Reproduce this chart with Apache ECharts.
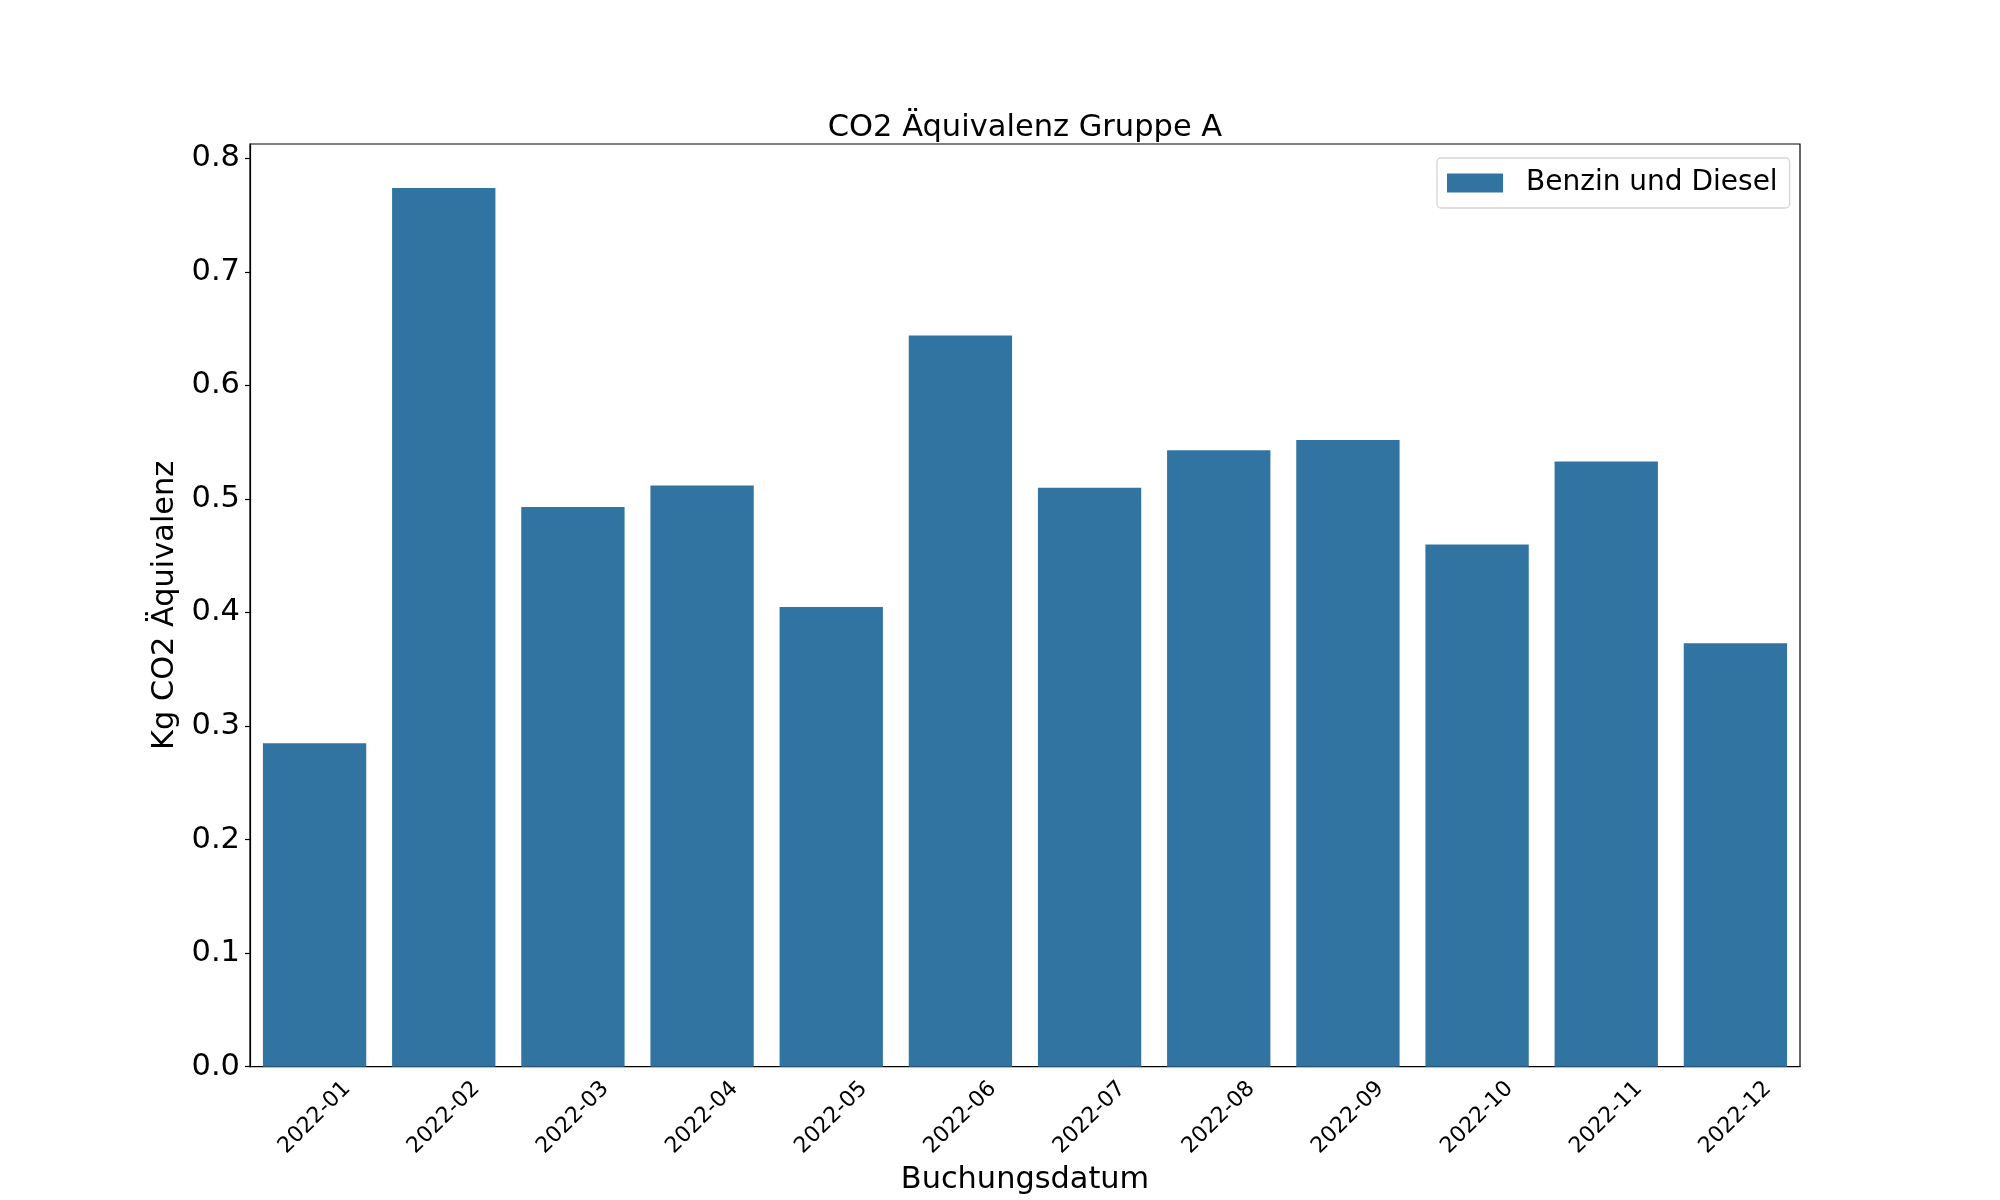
<!DOCTYPE html>
<html style="height: 100%">
    <head>
        <meta charset="utf-8">
    </head>
    <body style="height: 100%; margin: 0; background: #ffffff">
        <div id="container" style="width: 2000px; height: 1200px"></div>

        <script type="text/javascript" src="https://cdn.jsdelivr.net/npm/echarts@6/dist/echarts.min.js"></script>

        <script type="text/javascript">
var dom = document.getElementById("container");
var myChart = echarts.init(dom);

var option;

// Monate (x-Achse)
var months = ['2022-01', '2022-02', '2022-03', '2022-04', '2022-05', '2022-06',
              '2022-07', '2022-08', '2022-09', '2022-10', '2022-11', '2022-12'];
// Kg CO2 Äquivalenz pro Monat
var benzinDiesel = [0.285, 0.774, 0.493, 0.512, 0.405, 0.644,
                    0.510, 0.543, 0.552, 0.460, 0.533, 0.373];
var yTicks = [0.0, 0.1, 0.2, 0.3, 0.4, 0.5, 0.6, 0.7, 0.8];

var font = 'DejaVu Sans';

option = {
    animation: false,
    backgroundColor: '#ffffff',
    title: {
        text: 'CO2 Äquivalenz Gruppe A',
        left: 1025,
        top: 113,
        padding: 0,
        textAlign: 'center',
        textStyle: {
            fontFamily: font,
            fontSize: 30.5,
            fontWeight: 'normal',
            color: '#000'
        }
    },
    legend: {
        data: ['Benzin und Diesel'],
        left: 1437,
        top: 158,
        padding: [11, 12, 11, 10],
        itemWidth: 56,
        itemHeight: 19,
        icon: 'rect',
        borderColor: '#d5d5d5',
        borderWidth: 1.3,
        borderRadius: 4,
        textStyle: {
            fontFamily: font,
            fontSize: 28,
            color: '#000',
            padding: [0, 0, 0, 18]
        }
    },
    grid: {
        left: 250,
        right: 200,
        top: 144,
        bottom: 132,
        show: true,
        borderColor: '#000',
        borderWidth: 1.2,
        containLabel: false
    },
    xAxis: {
        type: 'category',
        data: months,
        boundaryGap: true,
        name: 'Buchungsdatum',
        nameLocation: 'middle',
        nameGap: 95,
        nameTextStyle: {
            fontFamily: font,
            fontSize: 30.4,
            color: '#000'
        },
        axisLine: { lineStyle: { color: '#000', width: 1.2 } },
        axisTick: {
            alignWithLabel: true,
            length: 5,
            lineStyle: { color: '#000', width: 1.2 }
        },
        axisLabel: {
            rotate: 45,
            margin: 51,
            align: 'center',
            verticalAlign: 'middle',
            fontFamily: font,
            fontSize: 22,
            color: '#000'
        },
        splitLine: { show: false }
    },
    yAxis: {
        type: 'value',
        min: 0,
        max: 0.8127,
        interval: 0.1,
        name: 'Kg CO2 Äquivalenz',
        nameLocation: 'middle',
        nameGap: 65,
        nameTextStyle: {
            fontFamily: font,
            fontSize: 30.4,
            color: '#000'
        },
        axisLine: { show: true, lineStyle: { color: '#000', width: 1.2 } },
        axisTick: {
            show: true,
            length: 5,
            lineStyle: { color: '#000', width: 1.2 }
        },
        axisLabel: {
            margin: 10,
            showMaxLabel: false,
            fontFamily: font,
            fontSize: 30.5,
            color: '#000',
            formatter: function (v) {
                for (var i = 0; i < yTicks.length; i++) {
                    if (Math.abs(v - yTicks[i]) < 1e-6) {
                        return yTicks[i].toFixed(1);
                    }
                }
                return '';
            }
        },
        splitLine: { show: false }
    },
    series: [
        {
            name: 'Benzin und Diesel',
            type: 'bar',
            data: benzinDiesel,
            barCategoryGap: '20%',
            itemStyle: { color: '#3274a1' }
        }
    ]
};

if (option && typeof option === 'object') {
    myChart.setOption(option);
}

        </script>
    </body>
</html>
